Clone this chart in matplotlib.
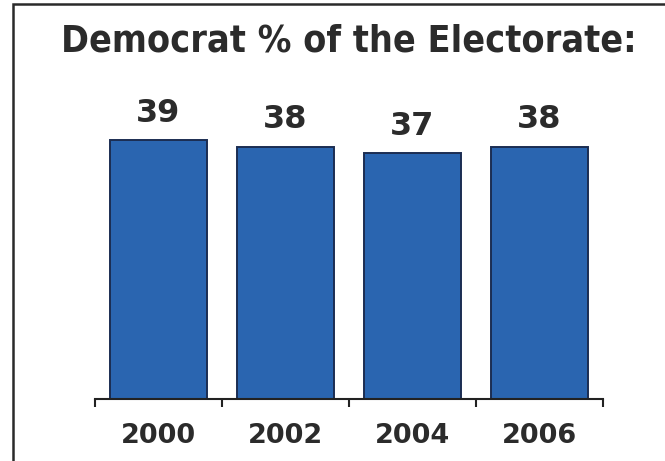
import matplotlib
matplotlib.use("Agg")
import matplotlib.pyplot as plt
from matplotlib.patches import Rectangle

years = ["2000", "2002", "2004", "2006"]
dem_share = [39, 38, 37, 38]
title = "Democrat % of the Electorate:"

bar_color = "#2a65b0"
edge_color = "#1b2d52"
text_color = "#2b2b2b"

fig = plt.figure(figsize=(6.65, 4.61), dpi=100)
W, H = 665, 461

# outer frame (left and top edges show, the rest runs off the canvas)
fig.patches.append(Rectangle((13 / W, -0.1), 1.2, 1 - 4 / H + 0.1,
                             transform=fig.transFigure, fill=False,
                             edgecolor="#2a2a2a", linewidth=1.8, clip_on=False))

ax = fig.add_axes([95 / W, 1 - 399 / H, (603 - 95) / W, 299 / H])
x = range(len(years))
bars = ax.bar(x, dem_share, width=0.76, color=bar_color,
              edgecolor=edge_color, linewidth=1.4)

for b, v in zip(bars, dem_share):
    ax.annotate(str(v), (b.get_x() + b.get_width() / 2, v),
                xytext=(0, 8), textcoords="offset points",
                ha="center", va="bottom", fontsize=23, fontweight="bold",
                color=text_color, family="DejaVu Sans")

ax.set_xlim(-0.5, len(years) - 0.5)
ax.set_ylim(0, 45)

ax.set_xticks(list(x))
ax.set_xticklabels(years, fontsize=19.5, fontweight="bold", color=text_color)
ax.tick_params(axis="x", which="major", length=0, pad=17)
ax.set_xticks([i - 0.5 for i in range(len(years) + 1)], minor=True)
ax.tick_params(axis="x", which="minor", length=5.5, width=1.5,
               direction="out", color="#222222")
ax.set_yticks([])

for s in ["left", "right", "top"]:
    ax.spines[s].set_visible(False)
ax.spines["bottom"].set_linewidth(1.5)
ax.spines["bottom"].set_color("#222222")

fig.text(349 / W, 1 - 51 / H, title, ha="center", va="baseline",
         fontsize=27, fontweight="bold", fontstretch="condensed",
         color=text_color)

fig.savefig("out.png", dpi=100)
